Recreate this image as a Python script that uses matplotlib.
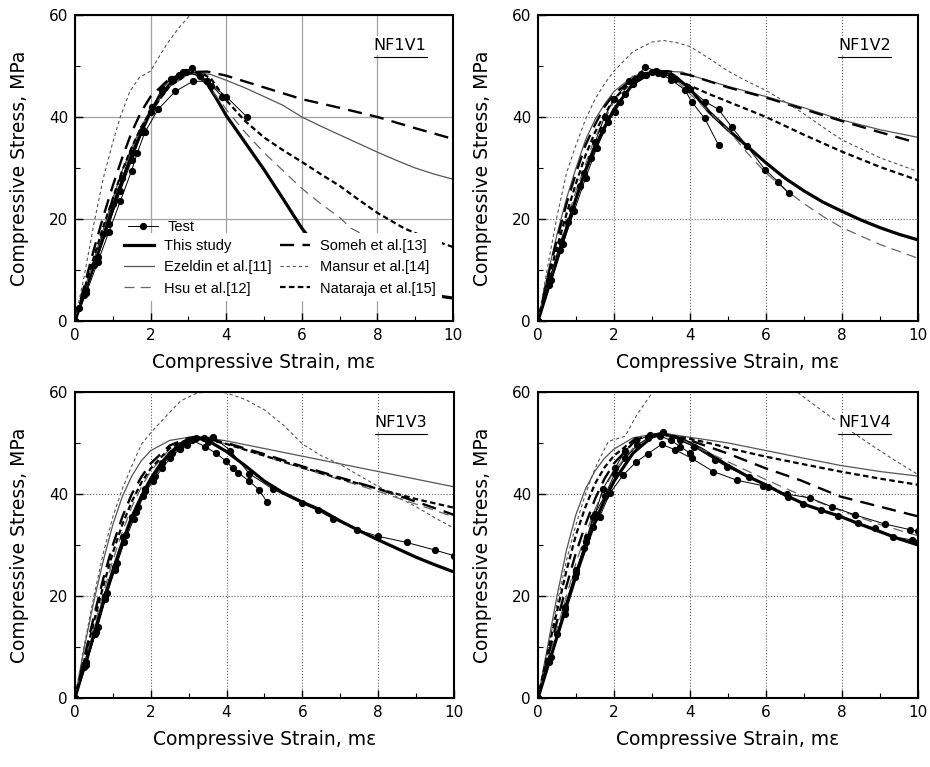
import matplotlib
matplotlib.use("Agg")
import matplotlib.pyplot as plt
from matplotlib.lines import Line2D
from matplotlib.ticker import MultipleLocator

OUT_PATH = "out.png"

# ---- data (strain in me, stress in MPa) ----
MODEL_NAMES = ["This study", "Ezeldin et al.[11]", "Hsu et al.[12]",
               "Someh et al.[13]", "Mansur et al.[14]", "Nataraja et al.[15]"]
PANEL_TITLES = ["NF1V1", "NF1V2", "NF1V3", "NF1V4"]

# NF1V1
v1_test_a = [(0, 0), (0.12, 2.5), (0.25, 5), (0.5, 11), (0.75, 17), (1.0, 23), (1.25, 28), (1.5, 33),
             (1.75, 37), (2.0, 41), (2.3, 45), (2.6, 47.5), (2.85, 48.8), (3.1, 49.6), (3.5, 47), (3.9, 44)]
v1_test_b = [(0, 0), (0.3, 5.5), (0.6, 11.5), (0.9, 17.5), (1.2, 23.5), (1.5, 29.5), (1.65, 33), (1.85, 37),
             (2.2, 41.5), (2.65, 45), (3.12, 47), (3.5, 47), (4.0, 44), (4.55, 40)]
v1_test_c = [(0, 0), (0.3, 6), (0.6, 12.5), (0.9, 19), (1.2, 25.5), (1.5, 31.5), (1.8, 37.5), (2.05, 42),
             (2.3, 45.5), (2.55, 47.5), (2.75, 48.3), (2.95, 48.8), (3.3, 48), (3.6, 46)]
v1_this = [(0, 0), (0.25, 5.5), (0.5, 11), (0.75, 16.5), (1, 22), (1.25, 27.5), (1.5, 32.5), (1.75, 37),
           (2, 41), (2.25, 44), (2.5, 46.2), (2.75, 47.8), (3, 48.6), (3.2, 48.5), (3.5, 46.5), (3.75, 43.5),
           (4, 40.3), (4.5, 35), (5, 29.7), (5.5, 24), (6, 18.2), (6.5, 13.5), (7, 10.5), (8, 7), (9, 5.5), (10, 4.5)]
v1_ezeldin = [(0, 0), (0.25, 6), (0.5, 12), (0.75, 18), (1, 24), (1.25, 29.5), (1.5, 34), (1.75, 38),
              (2, 41.5), (2.5, 46), (3, 48.4), (3.3, 48.7), (3.6, 48.3), (4, 47.2), (4.5, 45.7), (5, 44),
              (5.5, 42.3), (6, 40), (6.5, 38.2), (7, 36.5), (7.5, 34.8), (8, 33.1), (8.5, 31.5), (9, 30),
              (9.5, 28.8), (10, 27.8)]
v1_hsu = [(0, 0), (0.25, 5.8), (0.5, 11.5), (0.75, 17.5), (1, 23.5), (1.25, 28.8), (1.5, 33.5), (1.75, 37.5),
          (2, 41), (2.5, 46), (3, 48.3), (3.2, 48.4), (3.5, 46.5), (4, 41.5), (4.5, 37), (5, 33), (5.5, 29.5),
          (6, 26), (6.5, 23), (7, 20.3), (7.3, 18.2), (8, 15.5), (9, 12.5), (9.4, 11.3)]
v1_someh = [(0, 0), (0.25, 7), (0.5, 14), (0.75, 20.5), (1, 26.5), (1.25, 32), (1.5, 37), (1.75, 41),
            (2, 44), (2.5, 47.5), (3, 48.8), (3.5, 48.9), (4, 48.1), (5, 45.8), (6, 43.5), (7, 41.8),
            (8, 40), (9, 37.8), (10, 35.7)]
v1_mansur = [(0, 0), (0.25, 9), (0.5, 19), (0.75, 28), (1, 35), (1.2, 40), (1.45, 45), (1.7, 47.7),
             (2, 49), (2.2, 51.5), (2.45, 54.5), (2.75, 57.5), (3.05, 60), (3.3, 62)]
v1_nataraja = [(0, 0), (0.25, 6.3), (0.5, 12.5), (0.75, 18.5), (1, 24), (1.25, 29.5), (1.5, 34), (1.75, 38),
               (2, 41), (2.5, 46), (3, 48.5), (3.3, 48.8), (3.6, 47.5), (4, 43.3), (4.5, 39.2), (5, 36),
               (5.5, 33.5), (6, 31.2), (6.5, 28.8), (7, 26.5), (7.5, 23.8), (8, 21.2), (8.7, 18.2),
               (9.3, 16.3), (10, 14.5)]

# NF1V2
v2_test_a = [(0, 0), (0.3, 7), (0.58, 14), (0.8, 19.5), (1.1, 26.5), (1.4, 32), (1.68, 37.5), (2.03, 41),
             (2.29, 44.5), (2.55, 47.5), (2.82, 49.8), (3.1, 49), (3.5, 47.3), (3.87, 45.3), (4.04, 43),
             (4.39, 39.7), (4.75, 34.5)]
v2_test_b = [(0, 0), (0.35, 8), (0.65, 15), (0.95, 21.5), (1.25, 28), (1.55, 34), (1.85, 39), (2.15, 43),
             (2.5, 46.5), (2.85, 48.3), (3.15, 48.7), (3.5, 48), (4.0, 45.5), (4.4, 43), (4.75, 41.5),
             (5.1, 38), (5.49, 34.4), (5.97, 29.7), (6.32, 27.3), (6.6, 25)]
v2_test_c = [(0, 0), (0.3, 8), (0.6, 15.5), (0.9, 22), (1.2, 29), (1.5, 35), (1.75, 40), (2.0, 43.5),
             (2.4, 47), (2.7, 48.5), (3.0, 48.8), (3.3, 48.5), (3.6, 47.5)]
v2_this = [(0, 0), (0.25, 6), (0.5, 12), (0.75, 18), (1, 24), (1.25, 29.5), (1.5, 34), (1.75, 38),
           (2, 41.5), (2.5, 46.5), (3, 48.8), (3.2, 49), (3.6, 48), (4, 45.5), (4.5, 41), (5, 37.5),
           (5.5, 34.3), (6, 31), (6.5, 28), (7, 25.5), (7.5, 23.3), (8, 21.5), (8.5, 19.8), (9, 18.3),
           (9.5, 17), (10, 15.9)]
v2_ezeldin = [(0, 0), (0.25, 9), (0.5, 17), (0.75, 24), (1, 30), (1.25, 35.5), (1.5, 39.5), (1.75, 42.5),
              (2, 45), (2.5, 48), (3, 49), (3.3, 49), (3.8, 48.8), (4, 48.2), (5, 46), (6, 44), (7, 41.8),
              (8, 39.4), (9, 37.5), (10, 36)]
v2_hsu = [(0, 0), (0.25, 6.5), (0.5, 13), (0.75, 19.5), (1, 25.5), (1.5, 36), (2, 43), (2.5, 47),
          (3, 48.8), (3.3, 48.7), (3.6, 47.5), (4, 44.5), (4.5, 41), (5, 37.5), (5.5, 33), (6, 29),
          (6.5, 25.8), (7, 23), (7.5, 20.5), (8, 18.3), (9, 15), (10, 12.3)]
v2_someh = [(0, 0), (0.25, 8.5), (0.5, 16), (0.75, 23), (1, 29), (1.25, 34.5), (1.5, 38.5), (1.75, 42),
            (2, 44.5), (2.5, 47.5), (3, 48.8), (3.4, 49), (4, 48.2), (5, 45.8), (6, 43.8), (7, 41.5),
            (8, 39.2), (9, 37), (9.8, 35.3)]
v2_mansur = [(0, 0), (0.25, 10.5), (0.5, 20.5), (0.75, 29), (1, 34.5), (1.25, 39.5), (1.5, 43.5),
             (1.75, 46.5), (2, 49), (2.5, 52.8), (3, 54.7), (3.3, 55), (3.7, 54.5), (4, 53.8), (4.5, 51.5),
             (5, 49), (5.5, 47), (6, 45.2), (6.5, 43), (7, 40.6), (7.5, 38), (8, 35.5), (9, 32), (10, 29.3)]
v2_nataraja = [(0, 0), (0.25, 7.5), (0.5, 14.5), (0.75, 21), (1, 27), (1.25, 32.5), (1.5, 37), (1.75, 40.5),
               (2, 43.5), (2.5, 47.3), (3, 48.8), (3.3, 49), (3.8, 46.8), (4.5, 44.5), (5, 43), (6, 40),
               (7, 36.5), (8, 33.2), (9, 30.2), (10, 27.6)]

# NF1V3
v3_test_a = [(0, 0), (0.25, 6), (0.53, 12.6), (0.79, 20), (1.06, 25.7), (1.28, 31.5), (1.5, 35.5),
             (1.67, 37.5), (1.85, 41), (2.07, 43), (2.29, 46), (2.55, 48), (2.77, 49), (2.95, 50),
             (3.12, 50.8), (3.4, 51), (3.65, 51.2), (4.1, 48.5), (4.6, 44), (5.23, 40.9), (5.98, 38.2),
             (6.4, 36.8), (6.82, 35.1), (7.43, 33), (8, 31.7), (8.75, 30.5), (9.5, 29), (10, 27.9)]
v3_test_b = [(0, 0), (0.3, 7), (0.6, 14), (0.85, 20.5), (1.1, 26.5), (1.35, 32), (1.6, 36.5), (1.85, 40.5),
             (2.1, 43.5), (2.5, 47.5), (2.8, 49.5), (3.1, 50.5), (3.43, 49.3), (3.72, 48), (3.99, 46.4),
             (4.16, 45.1), (4.3, 44.2), (4.6, 42.5), (4.86, 40.8), (5.06, 38.5)]
v3_test_c = [(0, 0), (0.3, 6.5), (0.55, 13), (0.8, 19.5), (1.05, 25), (1.3, 30.5), (1.55, 35), (1.8, 39.5),
             (2.05, 42.5), (2.3, 45), (2.51, 47), (2.77, 48.9), (2.95, 49.5), (3.2, 51), (3.5, 50.2)]
v3_this = [(0, 0), (0.25, 6.3), (0.5, 12.5), (0.75, 19), (1, 25), (1.25, 30.5), (1.5, 35.5), (1.75, 39.5),
           (2, 43), (2.25, 45.8), (2.5, 48), (2.75, 49.6), (3, 50.7), (3.2, 51), (3.5, 50.5), (4, 48.3),
           (4.5, 45.5), (5, 42.5), (5.5, 40.2), (6, 38.4), (6.5, 36.8), (7, 34.7), (7.5, 32.8), (8, 31),
           (8.5, 29.3), (9, 27.6), (9.5, 26.1), (10, 24.7)]
v3_ezeldin = [(0, 0), (0.25, 10), (0.5, 19), (0.75, 27), (1, 34), (1.25, 39.5), (1.5, 43.5), (1.75, 46.5),
              (2, 48.5), (2.5, 50.5), (3, 51.1), (3.3, 51.2), (4, 50.4), (5, 48.9), (6, 47.4), (7, 45.9),
              (8, 44.4), (9, 42.9), (10, 41.4)]
v3_hsu = [(0, 0), (0.25, 7), (0.5, 14), (0.75, 20.5), (1, 27), (1.25, 32.5), (1.5, 37.5), (1.75, 41.3),
          (2, 44.5), (2.5, 48.8), (3, 50.9), (3.2, 51), (3.6, 50.6), (4, 49.8), (5, 47.4), (6, 45),
          (7, 42.8), (8, 40.5), (9, 38), (10, 35.5)]
v3_someh = [(0, 0), (0.25, 8), (0.5, 16), (0.75, 23.5), (1, 30), (1.25, 35.5), (1.5, 40), (1.75, 43.3),
            (2, 46), (2.5, 49.5), (3, 51), (3.3, 51.1), (4, 50), (5, 47.8), (6, 45.4), (7, 43.2), (8, 41),
            (9, 38.5), (10, 35.9)]
v3_mansur = [(0, 0), (0.25, 10.5), (0.5, 20), (0.75, 28.5), (1, 35.5), (1.25, 41), (1.5, 45.5),
             (1.76, 49.8), (2, 52), (2.25, 54), (2.5, 56), (2.8, 58.3), (3.2, 59.7), (3.6, 60.2), (4, 59.8),
             (4.5, 58.5), (5, 56.5), (5.5, 53.5), (6, 49.8), (6.5, 47.5), (7, 45.8), (7.5, 43.6), (8, 41.5),
             (8.5, 39.4), (9, 37.5), (9.5, 35.3), (10, 33.3)]
v3_nataraja = [(0, 0), (0.25, 7.5), (0.5, 15), (0.75, 22), (1, 28.5), (1.25, 34), (1.5, 38.5), (1.75, 42.2),
               (2, 45), (2.5, 49), (3, 50.8), (3.3, 51), (4, 49.8), (5, 47.5), (6, 45.2), (7, 43), (8, 41),
               (9, 39), (10, 37.3)]

# NF1V4
v4_test_a = [(0, 0), (0.3, 7), (0.5, 12.5), (0.7, 17.8), (1.0, 25), (1.3, 31.5), (1.5, 36), (1.71, 41),
             (2.02, 45), (2.3, 48.5), (2.59, 50.5), (2.94, 51.5), (3.29, 52.2), (3.74, 50.5), (4.1, 49.3),
             (4.66, 46.7), (4.97, 45.3), (5.54, 43.4), (6.06, 41.3), (6.59, 39.4), (6.98, 38.1),
             (7.46, 36.8), (7.9, 35.6), (8.42, 34.3), (8.86, 33.3), (9.35, 31.6), (9.83, 31.0), (10, 30.6)]
v4_test_b = [(0, 0), (0.3, 7.5), (0.7, 17.5), (1.0, 24.5), (1.25, 30.5), (1.45, 35.5), (1.75, 39.5),
             (2.02, 44), (2.3, 47), (2.6, 49.5), (2.9, 51), (3.2, 51.4), (3.5, 50.5), (3.74, 49.3), (4.0, 48)]
v4_test_c = [(0, 0), (0.35, 8), (0.7, 16.5), (0.97, 23.7), (1.2, 29.5), (1.45, 33.5), (1.62, 35.5),
             (1.89, 40.1), (2.24, 43.7), (2.59, 46.3), (2.89, 47.9), (3.25, 49.7), (3.6, 48.7), (4.04, 47.0),
             (4.61, 44.4), (5.23, 42.7), (5.93, 41.6), (6.54, 40.0), (7.16, 39.2), (7.73, 37.5),
             (8.34, 35.9), (9.13, 34.1), (9.79, 33.0), (10, 32.7)]
v4_this = [(0, 0), (0.25, 6), (0.5, 12), (0.75, 18), (1, 24), (1.25, 29.5), (1.5, 34.5), (1.75, 38.8),
           (2, 42.5), (2.5, 48), (3, 51.2), (3.3, 51.7), (3.74, 50.9), (4.3, 48.8), (4.97, 45.7), (5.5, 43.5),
           (6.02, 41.7), (6.5, 39.8), (7.07, 37.8), (7.5, 36.7), (7.95, 35.6), (8.5, 34), (9, 32.6),
           (9.5, 31.2), (10, 30)]
v4_ezeldin = [(0, 0), (0.25, 10), (0.5, 20), (0.75, 29), (1, 36), (1.25, 41), (1.5, 44.5), (1.75, 47),
              (2, 48.8), (2.5, 51), (3, 51.7), (3.4, 51.8), (4, 51.1), (5, 50), (6, 48.5), (7, 47),
              (7.95, 45.6), (9, 44.4), (10, 43.5)]
v4_hsu = [(0, 0), (0.25, 6.8), (0.5, 13.5), (0.75, 20), (1, 26.5), (1.25, 32), (1.5, 37), (1.75, 41),
          (2, 44.5), (2.5, 49), (3, 51.3), (3.3, 51.6), (3.7, 51), (4, 49.8), (5, 46.3), (6, 42.8), (7, 39.5),
          (8, 36.6), (9, 34), (10, 31.8)]
v4_someh = [(0, 0), (0.25, 7.8), (0.5, 15), (0.75, 22), (1, 28.5), (1.25, 34), (1.5, 39), (1.75, 43),
            (2, 46), (2.5, 50), (3, 51.5), (3.3, 51.7), (4, 50.5), (4.97, 48), (6, 45), (6.9, 42.7),
            (7.95, 39.5), (9, 37.5), (10, 35.6)]
v4_mansur = [(0, 0), (0.25, 9), (0.5, 18.5), (0.75, 27), (1, 34), (1.25, 40), (1.5, 45), (1.85, 50.3),
             (2.29, 51.3), (2.6, 55.5), (3.0, 59.8), (3.3, 62), (4, 64.5), (5, 65.5), (6, 63), (6.85, 59.8),
             (7.55, 55.9), (8.1, 53), (8.69, 50), (9.3, 47), (10, 43.8)]
v4_nataraja = [(0, 0), (0.25, 8.8), (0.5, 17), (0.75, 25), (1, 32), (1.25, 37.5), (1.5, 42), (1.75, 45.2),
               (2, 47.5), (2.5, 50.5), (3, 51.6), (3.3, 51.7), (4, 50.8), (4.6, 49.8), (5, 49), (6, 47.3),
               (7, 45.8), (7.95, 44.4), (9, 43), (10, 41.8)]

panel_tests = [
    [v1_test_a, v1_test_b, v1_test_c],
    [v2_test_a, v2_test_b, v2_test_c],
    [v3_test_a, v3_test_b, v3_test_c],
    [v4_test_a, v4_test_b, v4_test_c],
]
panel_models = [
    [v1_this, v1_ezeldin, v1_hsu, v1_someh, v1_mansur, v1_nataraja],
    [v2_this, v2_ezeldin, v2_hsu, v2_someh, v2_mansur, v2_nataraja],
    [v3_this, v3_ezeldin, v3_hsu, v3_someh, v3_mansur, v3_nataraja],
    [v4_this, v4_ezeldin, v4_hsu, v4_someh, v4_mansur, v4_nataraja],
]

# ---- styles ----
TEST_STYLE = dict(color="black", lw=0.7, marker="o", ms=4.2, mfc="black", mec="black")
MODEL_STYLES = [
    dict(color="black", lw=2.3, ls="-"),
    dict(color="#555555", lw=0.9, ls="-"),
    dict(color="#666666", lw=0.9, ls=(0, (8, 5))),
    dict(color="black", lw=1.7, ls=(0, (6, 3.5))),
    dict(color="#555555", lw=0.8, ls=(0, (3, 2.5))),
    dict(color="black", lw=1.6, ls=(0, (2.5, 1.5))),
]

plt.rcParams["font.family"] = ["DejaVu Sans"]

fig = plt.figure(figsize=(9.3, 7.67), dpi=100)
positions = [
    [0.0806, 0.5815, 0.4065, 0.399],
    [0.5785, 0.5815, 0.4086, 0.399],
    [0.0806, 0.0900, 0.4075, 0.399],
    [0.5785, 0.0900, 0.4086, 0.399],
]

axes = []
for i, pos in enumerate(positions):
    ax = fig.add_axes(pos)
    axes.append(ax)

    for pts, st in zip(panel_models[i], MODEL_STYLES):
        xs = [p[0] for p in pts]
        ys = [p[1] for p in pts]
        ax.plot(xs, ys, zorder=2, **st)
    for pts in panel_tests[i]:
        xs = [p[0] for p in pts]
        ys = [p[1] for p in pts]
        ax.plot(xs, ys, zorder=3, **TEST_STYLE)

    ax.set_xlim(0, 10)
    ax.set_ylim(0, 60)
    ax.xaxis.set_major_locator(MultipleLocator(2))
    ax.xaxis.set_minor_locator(MultipleLocator(1))
    ax.yaxis.set_major_locator(MultipleLocator(20))
    ax.yaxis.set_minor_locator(MultipleLocator(10))
    ax.tick_params(which="both", direction="in", top=False, right=False, labelsize=11, pad=5)
    ax.tick_params(which="major", length=6, width=1)
    ax.tick_params(which="minor", length=3.5, width=0.8)
    for sp in ax.spines.values():
        sp.set_linewidth(1.5)

    if i == 0:
        ax.grid(True, which="major", color="#a0a0a0", lw=0.9, ls="-")
    else:
        ax.grid(True, which="major", color="#606060", lw=0.8, ls=":")
    ax.set_axisbelow(True)

    ax.set_xlabel("Compressive Strain, m\u03b5", fontsize=13.5)
    ax.set_ylabel("Compressive Stress, MPa", fontsize=13.5)
    ax.xaxis.set_label_coords(0.5, -0.105)
    ax.yaxis.set_label_coords(-0.122, 0.5)

    ax.text(0.86, 0.9, PANEL_TITLES[i], transform=ax.transAxes, ha="center", va="center",
            fontsize=11.5, zorder=6,
            bbox=dict(fc="white", ec="none", pad=1.5))

# legend in the first panel
LEG_FONT = {"family": "Liberation Sans", "size": 10.5}
ax = axes[0]
model_handles = [Line2D([], [], **st) for st in MODEL_STYLES]
leg2 = ax.legend(model_handles, MODEL_NAMES, ncol=2, loc="upper left",
                 bbox_to_anchor=(0.1148, 0.287), borderaxespad=0, borderpad=0.4,
                 prop=LEG_FONT, handlelength=2.05, handletextpad=0.68, columnspacing=0.6,
                 labelspacing=0.5, frameon=True, fancybox=False)
leg2.get_frame().set_facecolor("white")
leg2.get_frame().set_edgecolor("none")
leg2.get_frame().set_alpha(1)
h_test = Line2D([], [], **TEST_STYLE)
leg1 = ax.legend([h_test], ["Test"], loc="upper left", bbox_to_anchor=(0.1148, 0.362),
                 borderaxespad=0, borderpad=0.66, frameon=False, prop=LEG_FONT,
                 handlelength=2.05, handletextpad=0.68)
leg1.set_zorder(6)
ax.add_artist(leg2)

# underline the panel titles
fig.canvas.draw()
for ax in axes:
    for t in ax.texts:
        bb = t.get_window_extent()
        inv = ax.transAxes.inverted()
        (x0, y0), (x1, y1) = inv.transform([(bb.x0, bb.y0), (bb.x1, bb.y1)])
        ax.plot([x0, x1], [y0 - 0.012, y0 - 0.012], transform=ax.transAxes,
                color="black", lw=0.8, zorder=7, clip_on=False)

fig.savefig(OUT_PATH, dpi=100)
print("Saved:", OUT_PATH)
